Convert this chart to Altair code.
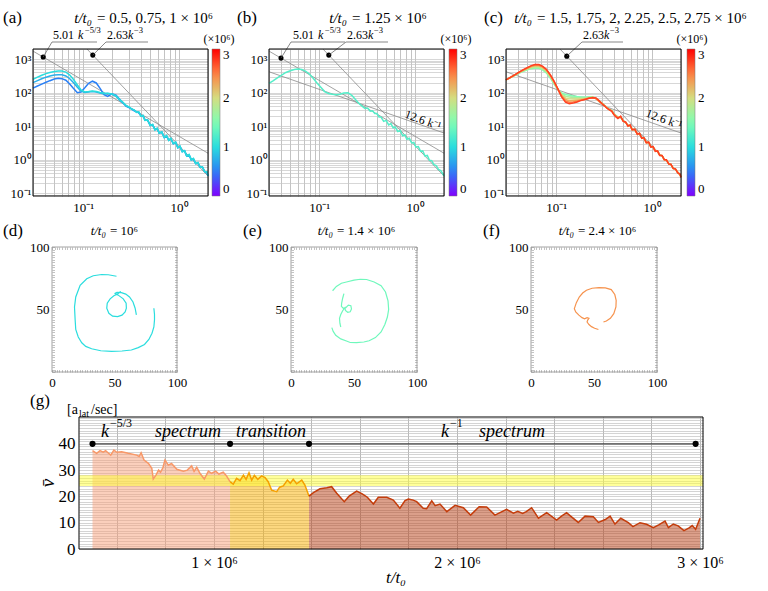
import altair as alt
import pandas as pd

FONT = "Liberation Serif"
W, H = 768, 591
ONE = pd.DataFrame({"_": [0]})

# ---------------- colour map: t/t0 in units of 10^6 ----------------
cmap_t = [0, 0.5, 1, 1.5, 2, 2.5, 3]
cmap_c = ["#8000ff", "#2a80f6", "#2addde", "#80ffb4", "#d4dd80", "#ff8042", "#ff0000"]

# ---------------- spectra E(k) ----------------
k_low = [0.03, 0.033, 0.037, 0.041, 0.045, 0.05, 0.055, 0.06, 0.066, 0.072, 0.079, 0.087, 0.095,
         0.104, 0.114, 0.125, 0.137, 0.15, 0.165, 0.18, 0.2, 0.22, 0.24, 0.26, 0.28]
k_high = [0.30, 0.32, 0.34, 0.36, 0.38, 0.40, 0.42, 0.44, 0.47, 0.50, 0.53, 0.56, 0.59, 0.62, 0.66,
          0.70, 0.74, 0.78, 0.82, 0.87, 0.92, 0.97, 1.02, 1.08, 1.14, 1.20, 1.27, 1.34, 1.41, 1.49,
          1.57, 1.66, 1.75, 1.85, 1.95, 2.0]

# panel (a): t/t0 = 0.5, 0.75, 1 x 10^6
a_t = [0.5, 0.75, 1.0]
a_low = [
    [137, 155, 180, 205, 228, 255, 270, 262, 235, 185, 135, 100, 105, 140, 190, 220, 195, 135, 88, 78, 92, 84, 64, 50, 40],
    [200, 225, 260, 290, 315, 335, 345, 340, 315, 265, 200, 145, 112, 102, 105, 108, 104, 98, 92, 94, 90, 78, 60, 50, 40],
    [250, 285, 330, 370, 400, 430, 445, 440, 410, 340, 250, 170, 120, 105, 108, 112, 108, 102, 98, 96, 92, 80, 62, 52, 42],
]
a_high = [
    [36, 33, 29, 27, 25, 21, 20, 16, 15, 11, 11, 8.2, 8.4, 6.4, 6.6, 4.8, 5.1, 3.9, 4.2, 3.1, 3.3, 2.3, 2.5, 1.8, 1.85,
     1.3, 1.4, 1.0, 1.05, 0.78, 0.8, 0.6, 0.6, 0.45, 0.42, 0.33],
    [37, 32, 30, 26, 26, 20, 21, 15, 15, 10.5, 11, 7.8, 8.6, 6.2, 6.7, 4.6, 5.2, 3.8, 4.3, 3.0, 3.3, 2.3, 2.5, 1.75, 1.85,
     1.3, 1.4, 1.0, 1.08, 0.77, 0.82, 0.6, 0.61, 0.44, 0.43, 0.33],
    [38, 33, 31, 26, 27, 20, 21, 15, 15.5, 10.5, 11.5, 7.8, 8.8, 6.2, 6.8, 4.6, 5.3, 3.8, 4.4, 3.1, 3.4, 2.3, 2.6, 1.75, 1.9,
     1.3, 1.45, 1.0, 1.1, 0.78, 0.84, 0.6, 0.62, 0.44, 0.44, 0.34],
]

# panel (b): t/t0 = 1.25 x 10^6
b_t = [1.25]
b_low = [[190, 225, 280, 340, 400, 450, 490, 505, 490, 440, 360, 265, 195, 145, 108, 95, 90, 87, 90, 98, 100, 82, 62, 48, 40]]
b_high = [[34, 35, 28, 29, 24, 24, 19, 19, 14, 15, 11, 12, 9.0, 9.5, 7.0, 7.5, 5.2, 5.6, 4.1, 4.4, 3.2, 3.3, 2.4, 2.5, 1.8,
           1.85, 1.3, 1.35, 0.97, 0.95, 0.72, 0.68, 0.52, 0.48, 0.38, 0.33]]

# panel (c): t/t0 = 1.5 ... 2.75 x 10^6
c_t = [1.5, 1.75, 2.0, 2.25, 2.5, 2.75]
c_low = [
    [240, 275, 325, 380, 430, 480, 520, 540, 530, 480, 390, 270, 180, 125, 98, 88, 84, 80, 77, 75, 73, 74, 75, 68, 56],
    [240, 277, 330, 390, 440, 495, 545, 570, 565, 510, 415, 290, 192, 127, 92, 79, 75, 72, 71, 70, 70, 72, 74, 67, 56],
    [240, 278, 333, 395, 455, 515, 575, 605, 600, 545, 445, 310, 200, 128, 86, 70, 66, 65, 65, 66, 67, 70, 73, 67, 55],
    [240, 279, 336, 400, 465, 530, 600, 635, 630, 575, 470, 320, 208, 129, 82, 63, 58, 58, 60, 62, 65, 69, 73, 66, 55],
    [240, 280, 338, 405, 472, 545, 620, 665, 660, 600, 485, 330, 215, 130, 78, 57, 52, 53, 56, 60, 64, 68, 72, 67, 56],
    [240, 280, 340, 410, 480, 560, 640, 690, 690, 620, 500, 340, 220, 130, 75, 52, 47, 49, 53, 58, 63, 68, 71, 70, 58],
]
c_high_first = [50, 42, 36, 32, 30, 24, 21, 19, 18, 15, 12.5, 11, 10, 8.3, 7.7, 6.2, 5.8, 4.6, 4.4, 3.4, 3.2, 2.5, 2.4,
                1.9, 1.75, 1.4, 1.3, 1.04, 0.96, 0.78, 0.72, 0.57, 0.52, 0.43, 0.36, 0.31]
c_high_mid = [48, 41, 35, 31, 29, 23, 20, 18, 19, 14.5, 13, 10.5, 10.5, 8.0, 8.0, 6.0, 6.0, 4.5, 4.5, 3.3, 3.3, 2.45,
              2.45, 1.85, 1.8, 1.38, 1.33, 1.02, 0.98, 0.77, 0.73, 0.56, 0.53, 0.42, 0.37, 0.31]
c_high_last = [47, 40, 34, 31, 28, 22, 19, 17, 20, 14, 13.5, 10, 11, 7.8, 8.2, 5.8, 6.2, 4.4, 4.6, 3.2, 3.4, 2.4, 2.5,
               1.8, 1.85, 1.35, 1.35, 1.0, 1.0, 0.75, 0.74, 0.55, 0.54, 0.41, 0.38, 0.30]
c_high = [c_high_first, c_high_mid, c_high_mid, c_high_mid, c_high_mid, c_high_last]

# power-law guide lines  E = coef * k^pow
fit_coef = {"f53": 5.01, "f3": 2.63, "f1": 12.6}
fit_pow = {"f53": -5.0 / 3.0, "f3": -3.0, "f1": -1.0}

# ---------------- vortex-line snapshots (x, y) ----------------
d_segs = [
    ([51.6, 45, 39.7, 33, 27.8, 22.5, 19, 18, 18.5, 19, 21, 23.8, 27, 31.7, 39, 47.6, 56, 63.5, 69, 74, 77.5, 80, 81.5, 82, 82, 81.5],
     [76.6, 77.8, 78, 77, 74.6, 69.3, 60, 52, 42, 34, 28, 23.4, 20.5, 18.6, 17, 16.5, 16.8, 17.6, 19.5, 22, 26, 31, 36, 41.7, 46, 51]),
    ([67.5, 66.5, 64.8, 62, 59, 55.5, 52, 50.5, 53, 57, 59.3, 59.5, 58.5, 56, 52.5, 48.5, 45.5, 43.8, 44.2, 46.5, 49.5, 52.5, 55],
     [45.7, 51, 56, 60, 62.3, 63.5, 63.8, 63, 61.5, 58.5, 55, 51, 48, 45.5, 44.3, 44.7, 47, 51, 55, 58.5, 61, 62.5, 64.5]),
]
e_segs = [
    ([33, 36, 40, 44, 50, 55, 60, 66, 71.5, 75, 77, 77.5, 76.5, 74.5, 71.5, 67, 62, 57.8, 52, 47, 44, 39.5, 35.5, 33.5, 32.4],
     [65, 68.5, 71, 72, 73.5, 74.2, 74, 72, 69, 64, 57, 50, 44, 38, 32, 27.5, 25, 24, 23.5, 23.6, 24.8, 26.5, 29.4, 32.5, 35.5]),
    ([42, 41, 40.2, 40, 41.5, 43.5, 45.5, 47.5, 48, 47, 45, 43.2, 42.8, 41, 39.5, 38.5, 38.8, 39.5],
     [62.7, 59, 55, 52.5, 51, 51.5, 53.5, 53, 50.5, 48.2, 47.8, 49.2, 51.5, 49, 46, 43, 39, 36]),
]
f_segs = [
    ([57.5, 59.8, 63, 65.7, 67.4, 67.6, 66.5, 63.7, 59, 53.9, 48.5, 44, 41, 38.3, 36, 34.4, 35.5, 38, 40.5, 42.5, 44.5,
      46, 45, 44.5, 46, 48, 50.5, 53.5],
     [40, 40.8, 43, 46.7, 52, 57.4, 62, 65.9, 67.3, 67.5, 67, 65.4, 63.2, 60, 55.5, 50.7, 48, 45.5, 43.5, 42.5, 43.5,
      43, 41.5, 40, 38, 36.3, 35, 34]),
]

# ---------------- mean velocity vs time (t in units of 10^6) ----------------
t1 = [0.50, 0.517, 0.531, 0.544, 0.554, 0.565, 0.575, 0.588, 0.60, 0.62, 0.647, 0.682, 0.692, 0.70, 0.712, 0.73,
      0.744, 0.75, 0.761, 0.772, 0.78, 0.79, 0.798, 0.812, 0.825, 0.847, 0.874, 0.89, 0.908, 0.918, 0.929, 0.942,
      0.96, 0.977, 0.99, 1.007, 1.02, 1.038, 1.05, 1.066]
v1 = [37.4, 36.4, 37.4, 36.8, 37.4, 36.5, 35.7, 37.6, 36.8, 37.0, 36.4, 35.7, 35.2, 36.6, 33.8, 32.6, 30.7, 26.6,
      28.1, 30.0, 29.2, 31.0, 33.8, 31.9, 32.5, 30.3, 29.6, 30.0, 31.6, 29.5, 31.1, 28.8, 26.6, 29.6, 28.8, 29.6,
      28.5, 29.2, 28.0, 25.6]
t2 = [1.066, 1.079, 1.093, 1.107, 1.121, 1.132, 1.144, 1.155, 1.166, 1.18, 1.196, 1.21, 1.223, 1.237, 1.258, 1.27,
      1.285, 1.302, 1.314, 1.326, 1.34, 1.361, 1.374, 1.391]
v2 = [25.6, 24.7, 26.9, 26.0, 28.1, 26.5, 29.0, 26.2, 28.0, 26.5, 27.8, 27.2, 25.6, 22.4, 21.8, 23.5, 24.0, 26.2,
      25.0, 26.5, 24.8, 26.2, 24.3, 20.1]
t3 = [1.391, 1.409, 1.436, 1.464, 1.484, 1.505, 1.536, 1.556, 1.587, 1.61, 1.631, 1.656, 1.676, 1.711, 1.738, 1.765,
      1.786, 1.80, 1.82, 1.834, 1.861, 1.875, 1.896, 1.91, 1.93, 1.958, 1.992, 2.026, 2.056, 2.091, 2.122, 2.156,
      2.204, 2.232, 2.25, 2.27, 2.285, 2.307, 2.335, 2.369, 2.41, 2.43, 2.451, 2.47, 2.499, 2.527, 2.561, 2.582,
      2.61, 2.63, 2.65, 2.674, 2.705, 2.724, 2.753, 2.78, 2.808, 2.83, 2.856, 2.87, 2.89, 2.91, 2.934, 2.955, 2.968,
      2.982, 3.0]
v3 = [20.1, 21.4, 22.9, 23.3, 23.7, 21.2, 18.0, 20.1, 22.0, 21.0, 19.7, 17.1, 19.7, 19.7, 18.6, 15.5, 18.4, 19.0,
      18.6, 18.0, 15.5, 15.3, 18.3, 16.5, 17.1, 14.2, 16.6, 15.7, 12.9, 16.1, 16.0, 12.9, 15.1, 13.6, 14.3, 13.5,
      14.2, 15.7, 11.7, 13.8, 11.0, 12.5, 13.8, 12.3, 10.1, 12.5, 12.3, 10.1, 11.2, 12.5, 9.5, 11.7, 10.0, 8.5, 10.0,
      9.4, 8.1, 9.2, 10.6, 8.1, 9.5, 8.8, 7.0, 8.0, 8.9, 7.5, 11.7]
phase_t = [0.5, 1.066, 1.391, 2.982]
phase_v = 40
band_v = [24, 28]

# ---------------- layout (pixels) ----------------
K_DOM = [0.03, 2.0]
E_DOM = [0.084, 2000]
TOP_T, TOP_B = 49, 196
MID_T, MID_B = 247, 372
G_T, G_B, G_L, G_R = 417, 549, 79, 703
T_DOM = [0.4444, 3.0123]
V_DOM = [0, 50.2]

k_ticks = [0.03, 0.04, 0.05, 0.06, 0.07, 0.08, 0.09] + [i / 10 for i in range(1, 10)] + [1, 2]
e_ticks = ([0.09] + [i / 10 for i in range(1, 10)] + list(range(1, 10)) + list(range(10, 100, 10))
           + list(range(100, 1000, 100)) + [1000, 2000])
k_label = "datum.value == 0.1 ? '10⁻¹' : datum.value == 1 ? '10⁰' : ''"
e_label = ("datum.value == 0.1 ? '10⁻¹' : datum.value == 1 ? '10⁰' : datum.value == 10 ? '10¹' : "
           "datum.value == 100 ? '10²' : datum.value == 1000 ? '10³' : ''")


def cscale():
    return alt.Scale(domain=cmap_t, range=cmap_c, interpolate="rgb")


def box(xs, ys, xd, yd, xaxis, yaxis, **mk):
    """Transparent rectangle spanning the panel; carries a pair of axes (and the frame stroke)."""
    return alt.Chart(ONE).mark_rect(**mk).encode(
        x=alt.XDatum(xd[0], type="quantitative", scale=xs, axis=xaxis), x2=alt.X2Datum(xd[1]),
        y=alt.YDatum(yd[0], type="quantitative", scale=ys, axis=yaxis), y2=alt.Y2Datum(yd[1]))


def top_panel(ts, lows, highs, fit_ids, dots, x0, x1, legend_x):
    xs = alt.Scale(type="log", domain=K_DOM, range=[x0, x1], nice=False)
    ys = alt.Scale(type="log", domain=E_DOM, range=[TOP_B, TOP_T], nice=False)
    rows = []
    for t, lo, hi in zip(ts, lows, highs):
        for k, e in zip(k_low + k_high, lo + hi):
            rows.append({"k": k, "E": e, "t": t})
    fit_rows = []
    for f in fit_ids:
        c, p = fit_coef[f], fit_pow[f]
        k0 = max(K_DOM[0], (E_DOM[1] / c) ** (1.0 / p))
        for k in (k0, K_DOM[1]):
            fit_rows.append({"fit": f, "k": k, "E": c * k ** p})
    dot_rows = [{"k": k, "E": fit_coef[f] * k ** fit_pow[f]} for f, k, _, _ in dots]

    fits = alt.Chart(pd.DataFrame(fit_rows)).mark_line(color="#8a8a8a", strokeWidth=0.8).encode(
        x=alt.X("k:Q", scale=xs, axis=None), y=alt.Y("E:Q", scale=ys, axis=None), detail="fit:N")
    lines = alt.Chart(pd.DataFrame(rows)).mark_line(strokeWidth=1.5).encode(
        x=alt.X("k:Q", scale=xs, axis=None), y=alt.Y("E:Q", scale=ys, axis=None),
        color=alt.Color("t:Q", scale=cscale(), legend=alt.Legend(
            orient="none", legendX=legend_x, legendY=TOP_T, direction="vertical", title=None,
            gradientLength=TOP_B - TOP_T, gradientThickness=8, values=[0, 1, 2, 3], labelFont=FONT,
            labelFontSize=13, labelOffset=3, padding=0, gradientStrokeColor="#777", gradientStrokeWidth=0.5)),
        detail="t:N")
    dotl = alt.Chart(pd.DataFrame(dot_rows)).mark_point(filled=True, color="black", size=26, opacity=1).encode(
        x=alt.X("k:Q", scale=xs, axis=None), y=alt.Y("E:Q", scale=ys, axis=None))
    leaders = []
    for f, k, px, py in dots:
        leaders.append(alt.Chart(ONE).mark_rule(color="#555", strokeWidth=0.7).encode(
            x=alt.XDatum(k, type="quantitative", scale=xs, axis=None),
            y=alt.YDatum(fit_coef[f] * k ** fit_pow[f], type="quantitative", scale=ys, axis=None),
            x2=alt.value(px), y2=alt.value(py)))
    ygrid_labels = box(xs, ys, K_DOM, E_DOM,
                       alt.Axis(orient="bottom", offset=TOP_B - H, values=k_ticks, labelExpr=k_label, grid=False,
                                ticks=False, domain=False, labelFontSize=13, labelPadding=5, labelFlush=False,
                                labelOverlap=False, title=None),
                       alt.Axis(orient="left", offset=-x0, values=e_ticks, labelExpr=e_label, grid=True,
                                gridColor="#c6c6c6", gridWidth=0.7, ticks=False, domain=False, labelFontSize=13,
                                labelPadding=2, labelFlush=False, labelOverlap=False, title=None),
                       fillOpacity=0, strokeOpacity=0)
    xgrid = box(xs, ys, K_DOM, E_DOM,
                alt.Axis(orient="top", offset=-TOP_T, values=k_ticks, grid=True, gridColor="#a9a9a9",
                         gridWidth=0.7, labels=False, ticks=False, domain=False, title=None),
                None, fillOpacity=0, strokeOpacity=0)
    frame = box(xs, ys, K_DOM, E_DOM, None, None, fillOpacity=0, stroke="black", strokeWidth=1)
    return [xgrid, ygrid_labels], [alt.layer(fits, lines, dotl, *leaders), frame]


def mid_panel(segs, t, x0, x1):
    xs = alt.Scale(domain=[0, 100], range=[x0, x1], nice=False, zero=False)
    ys = alt.Scale(domain=[0, 100], range=[MID_B, MID_T], nice=False, zero=False)
    rows = []
    for s, (xx, yy) in enumerate(segs):
        for i, (a, b) in enumerate(zip(xx, yy)):
            rows.append({"x": a, "y": b, "seg": s, "i": i, "t": t})
    line = alt.Chart(pd.DataFrame(rows)).mark_line(strokeWidth=1.2).encode(
        x=alt.X("x:Q", scale=xs, axis=None), y=alt.Y("y:Q", scale=ys, axis=None),
        color=alt.Color("t:Q", scale=cscale(), legend=None), detail="seg:N", order="i:Q")
    dom = [0, 100]
    labels = box(xs, ys, dom, dom,
                 alt.Axis(orient="bottom", offset=MID_B - H, values=[0, 50, 100], grid=False, ticks=False,
                          domain=False, labelFontSize=13, labelPadding=4, labelFlush=False, title=None),
                 alt.Axis(orient="left", offset=-x0, values=[50, 100], grid=False, ticks=False, domain=False,
                          labelFontSize=13, labelPadding=3, labelFlush=False, title=None),
                 fillOpacity=0, stroke="#8a8a8a", strokeWidth=0.8)
    mt = list(range(0, 101, 2))
    tick_kw = dict(labels=False, domain=False, grid=False, ticks=True, tickSize=2.5, tickColor="#9a9a9a",
                   tickWidth=0.6, values=mt, title=None)
    tick1 = box(xs, ys, dom, dom, alt.Axis(orient="top", offset=-MID_B, **tick_kw),
                alt.Axis(orient="right", offset=x0 - W, **tick_kw), fillOpacity=0, strokeOpacity=0)
    tick2 = box(xs, ys, dom, dom, alt.Axis(orient="bottom", offset=MID_T - H, **tick_kw),
                alt.Axis(orient="left", offset=-x1, **tick_kw), fillOpacity=0, strokeOpacity=0)
    return [tick1, tick2, labels, line]


def g_panel():
    xs = alt.Scale(domain=T_DOM, range=[G_L, G_R], nice=False, zero=False)
    ys = alt.Scale(domain=V_DOM, range=[G_B, G_T], nice=False, zero=False)
    X = lambda: alt.X("t:Q", scale=xs, axis=None)
    Y = lambda: alt.Y("v:Q", scale=ys, axis=None)
    d1 = pd.DataFrame({"t": t1, "v": v1})
    d2 = pd.DataFrame({"t": t2, "v": v2})
    d3 = pd.DataFrame({"t": t3, "v": v3})
    layers = []
    for d, c in ((d1, "#f7a07a"), (d2, "#f9b000"), (d3, "#b84015")):
        layers.append(alt.Chart(d).mark_area(color=c, opacity=0.5).encode(x=X(), y=Y(), y2=alt.Y2Datum(0)))
    layers.append(alt.Chart(ONE).mark_rect(color="#ffff33", opacity=0.5).encode(
        x=alt.XDatum(T_DOM[0], type="quantitative", scale=xs, axis=None), x2=alt.X2Datum(T_DOM[1]),
        y=alt.YDatum(band_v[0], type="quantitative", scale=ys, axis=None), y2=alt.Y2Datum(band_v[1])))
    for d, c in ((d1, "#f89868"), (d2, "#f5a000"), (d3, "#c43d0c")):
        layers.append(alt.Chart(d).mark_line(color=c, strokeWidth=1.5).encode(x=X(), y=Y()))
    dp = pd.DataFrame({"t": phase_t, "v": [phase_v] * len(phase_t)})
    layers.append(alt.Chart(dp).mark_line(color="#404040", strokeWidth=1.2).encode(x=X(), y=Y()))
    layers.append(alt.Chart(dp).mark_point(filled=True, color="black", size=38, opacity=1).encode(x=X(), y=Y()))
    axes = box(xs, ys, T_DOM, V_DOM,
               alt.Axis(orient="bottom", offset=G_B - H, values=[1, 2, 3],
                        labelExpr="format(datum.value, 'd') + ' × 10⁶'", grid=False, ticks=False, domain=False,
                        labelFontSize=16, labelPadding=5, labelFlush=False, title=None),
               alt.Axis(orient="left", offset=-G_L, values=list(range(0, 51)),
                        labelExpr="datum.value % 10 == 0 && datum.value <= 40 ? '' + datum.value : ''",
                        grid=True, gridColor="#c2c2c2", gridWidth=0.7, ticks=False, domain=False,
                        labelFontSize=17, labelPadding=4, labelFlush=False, labelOverlap=False, title=None),
               fillOpacity=0, strokeOpacity=0)
    xgrid = box(xs, ys, T_DOM, V_DOM,
                alt.Axis(orient="top", offset=-G_T,
                         values=[0.6, 0.8, 1.0, 1.2, 1.4, 1.6, 1.8, 2.0, 2.2, 2.4, 2.6, 2.8, 3.0],
                         grid=True, gridColor="#9a9a9a", gridWidth=0.7, labels=False, ticks=False, domain=False,
                         title=None),
                None, fillOpacity=0, strokeOpacity=0)
    frame = box(xs, ys, T_DOM, V_DOM, None, None, fillOpacity=0, stroke="black", strokeWidth=1)
    return [xgrid, axes], [alt.layer(*layers), frame]


def txt(s, x, y, size=14, italic=False, align="left", baseline="middle", angle=0):
    kw = dict(text=s, x=x, y=y, fontSize=size, align=align, baseline=baseline, font=FONT, color="black")
    if italic:
        kw["fontStyle"] = "italic"
    if angle:
        kw["angle"] = angle
    return alt.Chart(ONE).mark_text(**kw).encode(text=alt.value(s))


def hline(xa, xb, y):
    return alt.Chart(ONE).mark_rule(color="#555", strokeWidth=0.7).encode(
        x=alt.value(xa), x2=alt.value(xb), y=alt.value(y))


ga, pa = top_panel(a_t, a_low, a_high, ["f53", "f3"], [("f53", 0.0383, 52, 42), ("f3", 0.126, 106, 42)], 33, 208, 212)
gb, pb = top_panel(b_t, b_low, b_high, ["f53", "f3", "f1"], [("f53", 0.040, 291, 42), ("f3", 0.126, 346, 42)], 269, 444, 449)
gc, pc = top_panel(c_t, c_low, c_high, ["f3", "f1"], [("f3", 0.129, 582, 42)], 506, 681, 687)
mids = mid_panel(d_segs, 1.0, 52, 177) + mid_panel(e_segs, 1.4, 291, 417) + mid_panel(f_segs, 2.4, 531, 657)
gg, pg = g_panel()

texts = [
    # row 1 headings
    txt("(a)", 3, 18, 17), txt("t/t₀", 92, 18, 15, True, "right"), txt("= 0.5, 0.75, 1 × 10⁶", 97, 18, 15),
    txt("(b)", 237, 18, 17), txt("t/t₀", 347, 18, 15, True, "right"), txt("= 1.25 × 10⁶", 352, 18, 15),
    txt("(c)", 484, 18, 17), txt("t/t₀", 532, 18, 15, True, "right"),
    txt("= 1.5, 1.75, 2, 2.25, 2.5, 2.75 × 10⁶", 537, 18, 15),
    txt("(×10⁶)", 219, 39, 12, align="center"), txt("(×10⁶)", 456, 39, 12, align="center"),
    txt("(×10⁶)", 692, 39, 12, align="center"),
    # guide-line labels
    txt("5.01", 53, 39, 12, baseline="alphabetic"), txt("k", 78, 39, 12, True, baseline="alphabetic"),
    txt("−5/3", 85, 33, 8.5, baseline="alphabetic"),
    txt("2.63", 107, 39, 12, baseline="alphabetic"), txt("k", 128, 39, 12, True, baseline="alphabetic"),
    txt("−3", 134, 33, 8.5, baseline="alphabetic"),
    txt("5.01", 293, 39, 12, baseline="alphabetic"), txt("k", 318, 39, 12, True, baseline="alphabetic"),
    txt("−5/3", 325, 33, 8.5, baseline="alphabetic"),
    txt("2.63", 347, 39, 12, baseline="alphabetic"), txt("k", 368, 39, 12, True, baseline="alphabetic"),
    txt("−3", 374, 33, 8.5, baseline="alphabetic"),
    txt("2.63", 583, 39, 12, baseline="alphabetic"), txt("k", 604, 39, 12, True, baseline="alphabetic"),
    txt("−3", 610, 33, 8.5, baseline="alphabetic"),
    txt("12.6 k⁻¹", 423, 120, 12, align="center", angle=20),
    txt("12.6 k⁻¹", 664, 119, 12, align="center", angle=20),
    hline(52, 97, 42), hline(106, 148, 42), hline(291, 345, 42), hline(346, 388, 42), hline(582, 623, 42),
    # row 2 headings
    txt("(d)", 3, 231, 17), txt("t/t₀", 106, 231, 13, True, "right"), txt("= 10⁶", 110, 231, 13),
    txt("(e)", 243, 231, 17), txt("t/t₀", 333, 231, 13, True, "right"), txt("= 1.4 × 10⁶", 337, 231, 13),
    txt("(f)", 483, 231, 17), txt("t/t₀", 574, 231, 13, True, "right"), txt("= 2.4 × 10⁶", 578, 231, 13),
    # row 3
    txt("(g)", 30, 401, 17),
    txt("[a", 67, 410, 14), txt("lat", 79, 414, 10), txt("/sec]", 91, 410, 14),
    txt("k", 101, 437, 18, True, baseline="alphabetic"), txt("−5/3", 110, 427, 12, baseline="alphabetic"),
    txt("spectrum", 188, 437, 18, True, "center", "alphabetic"),
    txt("transition", 271, 437, 18, True, "center", "alphabetic"),
    txt("k", 441, 437, 18, True, baseline="alphabetic"), txt("−1", 450, 427, 12, baseline="alphabetic"),
    txt("spectrum", 512, 437, 18, True, "center", "alphabetic"),
    txt("v̄", 48, 483, 19, True, "center", angle=270),
    txt("t/t₀", 396, 578, 17, True, "center"),
]

chart = alt.layer(*ga, *gb, *gc, *gg, *pa, *pb, *pc, *mids, *pg, *texts).resolve_scale(
    x="independent", y="independent", color="independent"
).properties(
    width=W, height=H, autosize=alt.AutoSizeParams(type="none"), padding=0
).configure(font=FONT).configure_view(strokeWidth=0).configure_axis(labelFont=FONT, labelColor="black")

chart.save("out.html", embed_options={"renderer": "svg", "actions": False})
